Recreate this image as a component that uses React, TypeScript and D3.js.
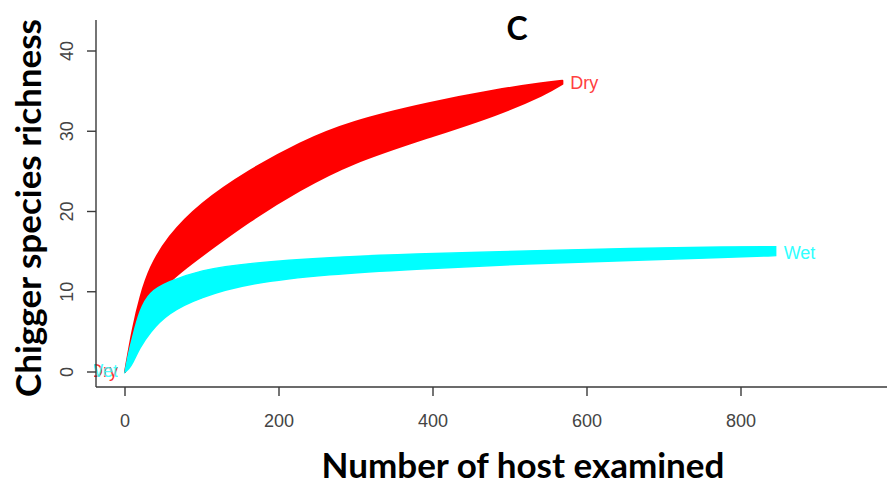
import React from "react";
import * as d3 from "d3";

const xTicks = [0, 200, 400, 600, 800];
const yTicks = [0, 10, 20, 30, 40];

const dryHosts = [0, 10, 20, 32, 55, 97, 162, 227, 292, 396, 483, 548, 568];
const dryLower = [0, 2, 5, 8, 11.3, 14.3, 18.9, 22.7, 26, 29.3, 32, 34.7, 35.9];
const dryUpper = [0, 5.5, 9.5, 13, 16.8, 21, 25.2, 28.6, 31.2, 33.6, 35.2, 36.1, 36.3];

const wetHosts = [0, 5, 10, 19, 32, 55, 97, 162, 266, 370, 526, 656, 786, 845];
const wetLower = [0, 0.4, 1.1, 3, 4.9, 7.3, 9.3, 11.1, 12.2, 12.8, 13.5, 13.9, 14.3, 14.5];
const wetUpper = [0, 2.5, 4.4, 7.7, 10, 11.2, 12.7, 13.6, 14.3, 14.7, 15.1, 15.4, 15.6, 15.6];

const W = 887;
const H = 488;

export default function App() {
  const x = d3.scaleLinear().domain([0, 800]).range([125, 741]);
  const y = d3.scaleLinear().domain([0, 40]).range([372, 51]);

  const dry = dryHosts.map((n, i) => ({ n, lo: dryLower[i], hi: dryUpper[i] }));
  const wet = wetHosts.map((n, i) => ({ n, lo: wetLower[i], hi: wetUpper[i] }));

  const area = d3
    .area<{ n: number; lo: number; hi: number }>()
    .x((d) => x(d.n))
    .y0((d) => y(d.lo))
    .y1((d) => y(d.hi))
    .curve(d3.curveBasis);

  const axisColor = "#3a3a3a";
  const tickFont = "'Liberation Sans', Arial, sans-serif";
  const titleFont = "Lato, 'Open Sans', sans-serif";
  const x0 = 96;
  const yb = 387;

  const dryEnd = dry[dry.length - 1];
  const wetEnd = wet[wet.length - 1];

  return (
    <svg
      width={W}
      height={H}
      style={{ position: "absolute", left: 0, top: 0, background: "#fff" }}
    >
      <defs>
        <clipPath id="plotclip">
          <rect x={x0 - 2} y={0} width={W - x0} height={yb} />
        </clipPath>
      </defs>
      <g clipPath="url(#plotclip)">
        <path d={area(dry) || ""} fill="#ff0000" stroke="#ff0000" strokeWidth={2} strokeLinejoin="round" />
        <path d={area(wet) || ""} fill="#00ffff" stroke="#00ffff" strokeWidth={1.5} />
        <text x={118} y={377} fill="#ff3030" fontFamily={tickFont} fontSize={18} textAnchor="end">Dry</text>
        <text x={118} y={377} fill="#30ffff" fontFamily={tickFont} fontSize={18} textAnchor="end" opacity={0.85}>Wet</text>
        <text x={x(dryEnd.n) + 8} y={y((dryEnd.lo + dryEnd.hi) / 2) + 7} fill="#ff4040" fontFamily={tickFont} fontSize={18}>Dry</text>
        <text x={x(wetEnd.n) + 8} y={y((wetEnd.lo + wetEnd.hi) / 2) + 8} fill="#30ffff" fontFamily={tickFont} fontSize={18}>Wet</text>
      </g>

      <line x1={x0} x2={x0} y1={20} y2={yb} stroke={axisColor} strokeWidth={1.4} />
      <line x1={x0} x2={W} y1={yb} y2={yb} stroke={axisColor} strokeWidth={1.4} />
      {yTicks.map((t) => (
        <g key={"y" + t}>
          <line x1={x0 - 9} x2={x0} y1={y(t)} y2={y(t)} stroke={axisColor} strokeWidth={1.4} />
          <text
            transform={`translate(${73},${y(t)}) rotate(-90)`}
            textAnchor="middle"
            fontFamily={tickFont}
            fontSize={18}
            fill="#444"
          >
            {t}
          </text>
        </g>
      ))}
      {xTicks.map((t) => (
        <g key={"x" + t}>
          <line x1={x(t)} x2={x(t)} y1={yb} y2={yb + 9} stroke={axisColor} strokeWidth={1.4} />
          <text x={x(t)} y={427} textAnchor="middle" fontFamily={tickFont} fontSize={18} fill="#444">
            {t}
          </text>
        </g>
      ))}

      <text x={517} y={40} textAnchor="middle" fontFamily={titleFont} fontWeight="bold" fontSize={32} fill="#000">
        C
      </text>
      <text x={523} y={478} textAnchor="middle" fontFamily={titleFont} fontWeight="bold" fontSize={35} fill="#000">
        Number of host examined
      </text>
      <text
        transform={`translate(${41},${208}) rotate(-90)`}
        textAnchor="middle"
        fontFamily={titleFont}
        fontWeight="bold"
        fontSize={35}
        fill="#000"
      >
        Chigger species richness
      </text>
    </svg>
  );
}
